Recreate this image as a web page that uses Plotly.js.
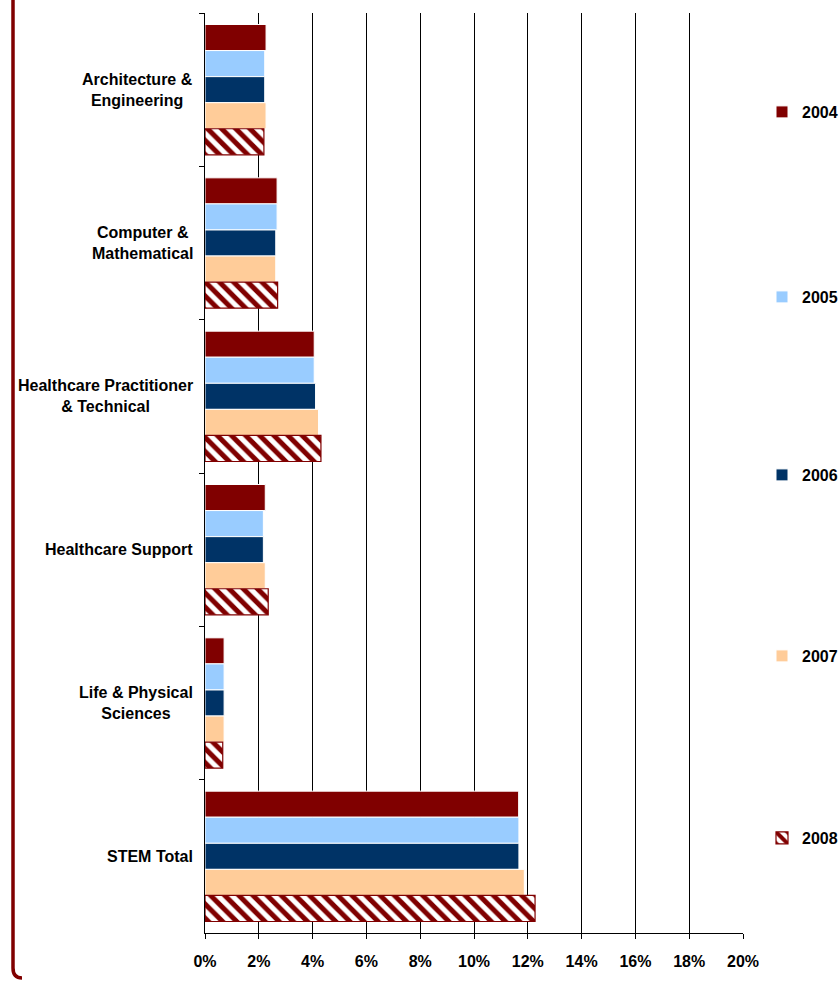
<!DOCTYPE html>
<html>
<head>
<meta charset="utf-8">
<script src="https://cdn.plot.ly/plotly-3.0.1.min.js"></script>
<style>
  html, body { margin: 0; padding: 0; background: #fff; }
  #chart { width: 840px; height: 981px; }
</style>
</head>
<body>
<div id="chart"></div>
<script>
// Categories (top to bottom) and their displayed labels
const categories = ['Architecture & Engineering', 'Computer & Mathematical', 'Healthcare Practitioner & Technical', 'Healthcare Support', 'Life & Physical Sciences', 'STEM Total'];
const categoryLabels = ['Architecture &<br>Engineering', 'Computer &<br>Mathematical', 'Healthcare Practitioner<br>& Technical', 'Healthcare Support', 'Life & Physical<br>Sciences', 'STEM Total'];

// Series names
const years = ['2004', '2005', '2006', '2007', '2008'];

// Values in percent
const v2004 = [2.27, 2.68, 4.06, 2.24, 0.71, 11.66];
const v2005 = [2.22, 2.68, 4.06, 2.17, 0.71, 11.67];
const v2006 = [2.22, 2.63, 4.11, 2.17, 0.71, 11.67];
const v2007 = [2.27, 2.63, 4.22, 2.24, 0.71, 11.87];
const v2008 = [2.19, 2.70, 4.31, 2.35, 0.66, 12.27];

// x-axis ticks
const xTickVals = [0, 2, 4, 6, 8, 10, 12, 14, 16, 18, 20];

const FONT = 'Liberation Sans, Arial, sans-serif';
const FS = 16;
const seriesValues = [v2004, v2005, v2006, v2007, v2008];
const colors = ['#800000', '#99CCFF', '#003366', '#FFCC99', '#800000'];
const legendNames = ['legend', 'legend2', 'legend3', 'legend4', 'legend5'];

const traces = years.map((y, i) => {
  const t = {
    type: 'bar',
    orientation: 'h',
    name: y,
    x: seriesValues[i],
    y: categories,
    legend: legendNames[i],
    hoverinfo: 'x+name',
    marker: { color: colors[i], line: { color: '#ffffff', width: 1 } }
  };
  if (i === 4) {
    t.marker = {
      color: '#ffffff',
      line: { color: '#800000', width: 1.2 },
      pattern: { shape: '\\', fgcolor: '#800000', bgcolor: '#ffffff', size: 10, solidity: 0.5, fillmode: 'replace' }
    };
  }
  return t;
});

// plot area geometry (px)
const L = 205, R = 97, T = 13, B = 48, W = 840, H = 981;
const pw = W - L - R, ph = H - T - B;
const px2x = (px) => (px - L) / pw;
const py2y = (py) => (H - B - py) / ph;

const legendY = [112, 297, 475, 656, 838];
const legendBase = {
  xref: 'container', yref: 'container',
  x: 762 / W, xanchor: 'left', yanchor: 'middle',
  bgcolor: 'rgba(0,0,0,0)', borderwidth: 0,
  font: { family: FONT, size: FS, color: '#000', weight: 'bold' },
  itemwidth: 30
};

const layout = {
  width: W, height: H,
  margin: { l: L, r: R, t: T, b: B, pad: 0, autoexpand: false },
  paper_bgcolor: '#ffffff',
  plot_bgcolor: '#ffffff',
  barmode: 'group',
  bargap: 0.15,
  bargroupgap: 0,
  showlegend: true,
  font: { family: FONT, size: FS, color: '#000' },
  xaxis: {
    range: [0, 20],
    tickvals: xTickVals,
    ticktext: xTickVals.map(v => v + '%'),
    showgrid: true, gridcolor: '#000000', gridwidth: 1,
    zeroline: false,
    showline: true, linecolor: '#000000', linewidth: 1,
    ticks: 'outside', ticklen: 5, tickcolor: '#000000',
    ticklabelstandoff: 9,
    tickfont: { family: FONT, size: FS, color: '#000', weight: 'bold' },
    fixedrange: true, automargin: false
  },
  yaxis: {
    type: 'category',
    categoryorder: 'array', categoryarray: categories,
    autorange: 'reversed',
    showgrid: false, zeroline: false,
    showline: true, linecolor: '#000000', linewidth: 1,
    ticks: 'outside', ticklen: 5, tickcolor: '#000000', tickson: 'boundaries',
    showticklabels: false,
    fixedrange: true, automargin: false
  },
  annotations: categories.map((c, i) => ({
    x: 0, xref: 'x', y: c, yref: 'y',
    xanchor: 'right', yanchor: 'middle', xshift: -10,
    text: categoryLabels[i], align: 'center', showarrow: false,
    font: { family: FONT, size: FS, color: '#000', weight: 'bold' }
  })),
  shapes: [{
    type: 'path', xref: 'paper', yref: 'paper',
    path: 'M ' + px2x(13) + ',' + py2y(-10) + ' L ' + px2x(13) + ',' + py2y(968) +
          ' Q ' + px2x(13) + ',' + py2y(978) + ' ' + px2x(22) + ',' + py2y(978),
    line: { color: '#800000', width: 3.5 }
  }]
};
legendNames.forEach((ln, i) => {
  layout[ln] = Object.assign({}, legendBase, { y: 1 - legendY[i] / H });
});

Plotly.newPlot('chart', traces, layout, { displayModeBar: false, staticPlot: true });
</script>
</body>
</html>
